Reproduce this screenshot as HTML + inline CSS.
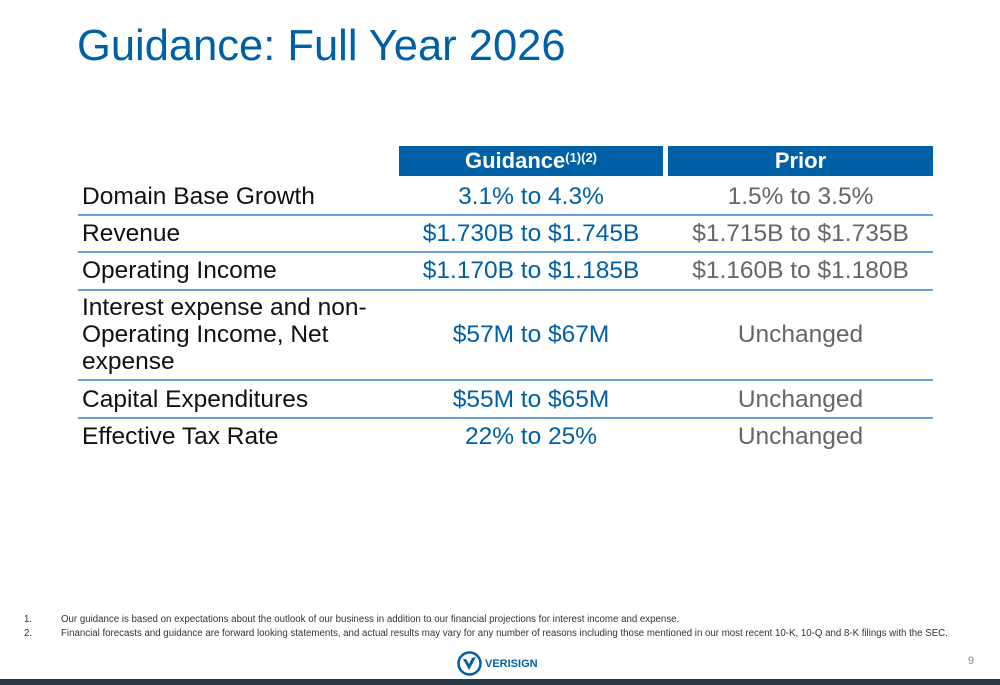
<!DOCTYPE html>
<html><head><meta charset="utf-8"><style>
body{margin:0;width:1000px;height:685px;position:relative;background:#fff;font-family:"Liberation Sans",Arial,sans-serif;overflow:hidden}
.a{position:absolute}
.title{left:77px;top:22px;font-size:43.5px;color:#0060a6}
.hd{top:146px;height:30px;background:#0060a6;color:#fff;font-weight:bold;font-size:22px;text-align:center;line-height:30px}
.lab{left:82px;font-size:24.5px;color:#111;line-height:27px}
.g{left:399px;width:264px;text-align:center;font-size:24.5px;color:#0060a6}
.p{left:668px;width:265px;text-align:center;font-size:24.5px;color:#666}
.ln{left:78px;width:855px;height:2px;background:#6a9fd8}
.fn{font-size:9.7px;color:#333}
</style></head><body>
<div class="a title">Guidance: Full Year 2026</div>
<div class="a hd" style="left:399px;width:264px">Guidance<sup style="font-size:13px;vertical-align:6px;line-height:0">(1)(2)</sup></div>
<div class="a hd" style="left:668px;width:265px">Prior</div>

<div class="a lab" style="top:183px">Domain Base Growth</div>
<div class="a g" style="top:183px">3.1% to 4.3%</div>
<div class="a p" style="top:183px">1.5% to 3.5%</div>
<div class="a ln" style="top:214px"></div>

<div class="a lab" style="top:220px">Revenue</div>
<div class="a g" style="top:220px">$1.730B to $1.745B</div>
<div class="a p" style="top:220px">$1.715B to $1.735B</div>
<div class="a ln" style="top:251px"></div>

<div class="a lab" style="top:257px">Operating Income</div>
<div class="a g" style="top:257px">$1.170B to $1.185B</div>
<div class="a p" style="top:257px">$1.160B to $1.180B</div>
<div class="a ln" style="top:289px"></div>

<div class="a lab" style="top:294px">Interest expense and non-<br>Operating Income, Net<br>expense</div>
<div class="a g" style="top:321px">$57M to $67M</div>
<div class="a p" style="top:321px">Unchanged</div>
<div class="a ln" style="top:379px"></div>

<div class="a lab" style="top:386px">Capital Expenditures</div>
<div class="a g" style="top:386px">$55M to $65M</div>
<div class="a p" style="top:386px">Unchanged</div>
<div class="a ln" style="top:417px"></div>

<div class="a lab" style="top:423px">Effective Tax Rate</div>
<div class="a g" style="top:423px">22% to 25%</div>
<div class="a p" style="top:423px">Unchanged</div>

<div class="a fn" style="left:24px;top:614px">1.<span style="position:absolute;left:37px;white-space:nowrap">Our guidance is based on expectations about the outlook of our business in addition to our financial projections for interest income and expense.</span></div>
<div class="a fn" style="left:24px;top:628px">2.<span style="position:absolute;left:37px;white-space:nowrap">Financial forecasts and guidance are forward looking statements, and actual results may vary for any number of reasons including those mentioned in our most recent 10-K, 10-Q and 8-K filings with the SEC.</span></div>

<div class="a" style="left:457px;top:651px;display:flex;align-items:center">
<svg width="25" height="25" viewBox="0 0 25 25"><circle cx="12.5" cy="12.5" r="11" fill="none" stroke="#0060a6" stroke-width="2.5"/><path d="M6 8 L12 19 L19 6 L15 7 L12 13 L9 8Z" fill="#0060a6"/></svg>
<span style="font-size:11px;font-weight:bold;color:#0060a6;margin-left:3px">VERISIGN</span></div>
<div class="a" style="left:968px;top:655px;font-size:11px;color:#888">9</div>
<div class="a" style="left:0;top:679px;width:1000px;height:6px;background:#263b47"></div>
</body></html>
